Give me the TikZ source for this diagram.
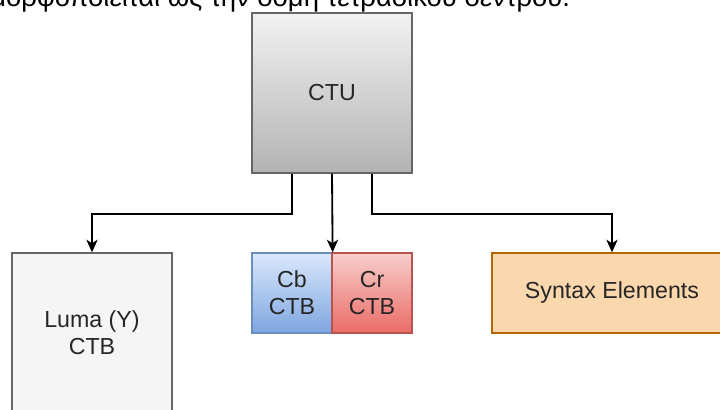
\documentclass[tikz,border=0pt]{standalone}
\usepackage{fontspec}
\setmainfont{Liberation Sans}
\usepackage{xcolor}
\usetikzlibrary{positioning,arrows.meta,calc}

\definecolor{ctuTop}{HTML}{F2F2F2}
\definecolor{ctuBot}{HTML}{B3B3B3}
\definecolor{ctuLine}{HTML}{666666}
\definecolor{lumaFill}{HTML}{F5F5F5}
\definecolor{cbTop}{HTML}{DAE8FC}
\definecolor{cbBot}{HTML}{7EA6E0}
\definecolor{cbLine}{HTML}{6C8EBF}
\definecolor{crTop}{HTML}{F8CECC}
\definecolor{crBot}{HTML}{EA6B66}
\definecolor{crLine}{HTML}{B85450}
\definecolor{synFill}{HTML}{FAD7AC}
\definecolor{synLine}{HTML}{B46504}

\begin{document}
\begin{tikzpicture}[>={Stealth[length=9pt,width=8pt,inset=2.5pt]},
  every node/.style={font=\fontsize{16.5}{19.5}\selectfont, text=black!85},
  blk/.style={draw=#1, line width=0.9pt, align=center, inner sep=0pt},
  link/.style={->, line width=1.3pt}]
  \useasboundingbox (0,0) rectangle (18,-10.25);
  \clip (0,0) rectangle (18,-10.25);

  %% ─── Caption line, cut at the top ──────────────────────────────────────
  \node[anchor=base east, font=\fontsize{19.5}{22}\selectfont, text=black]
      (caption) at (14.375,-0.16) {μορφοποιείται ως την δομή τετραδικού δέντρου.};

  %% ─── Coding tree unit ─────────────────────────────────────────────────
  \node[blk=ctuLine, minimum width=4cm, minimum height=4cm,
        top color=ctuTop, bottom color=ctuBot] (ctu) at (8.3,-2.325) {CTU};

  %% ─── Coding tree blocks ───────────────────────────────────────────────
  \node[blk=ctuLine, fill=lumaFill, minimum width=4cm, minimum height=4cm]
      (luma) at (2.3,-8.325) {Luma (Y)\\CTB};
  \node[blk=cbLine, minimum width=2cm, minimum height=2cm,
        top color=cbTop, bottom color=cbBot] (cb) at (7.3,-7.325) {Cb\\CTB};
  \node[blk=crLine, minimum width=2cm, minimum height=2cm,
        top color=crTop, bottom color=crBot] (cr) at (9.3,-7.325) {Cr\\CTB};
  \node[blk=synLine, fill=synFill, minimum width=6cm, minimum height=2cm]
      (syn) at (15.3,-7.325) {Syntax Elements};

  %% ─── Links ─────────────────────────────────────────────────────────────
  \draw[link] ([xshift=-1cm]ctu.south) -- ++(0,-1) -| (luma.north);
  \draw[link] (ctu.south) -- (cb.north east);
  \draw[link] ([xshift=1cm]ctu.south) -- ++(0,-1) -| (syn.north);
\end{tikzpicture}
\end{document}
